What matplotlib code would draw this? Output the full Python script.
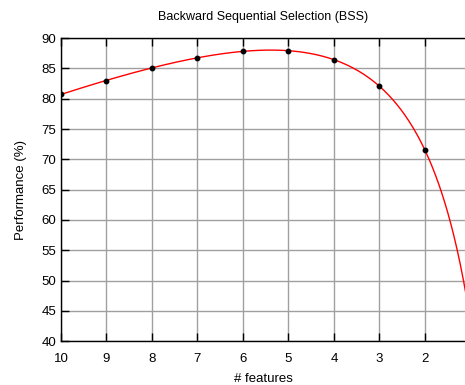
import numpy as np
import matplotlib
matplotlib.use("Agg")
import matplotlib.pyplot as plt

plt.rcParams['font.family'] = ['Liberation Sans', 'DejaVu Sans']

# number of features vs performance
n_features = [10, 9, 8, 7, 6, 5, 4, 3, 2]
performance = [80.7, 83.0, 85.1, 86.8, 87.8, 87.9, 86.4, 82.1, 71.5]
x_ticks = [10, 9, 8, 7, 6, 5, 4, 3, 2]
y_ticks = [40, 45, 50, 55, 60, 65, 70, 75, 80, 85, 90]

fig = plt.figure(figsize=(4.65, 3.85), dpi=100)
ax = fig.add_axes([0.131, 0.114, 0.869, 0.787])

# smooth curve: cubic fit in log(x) through the points
coef = np.polyfit(np.log(n_features), performance, 3)
xs = np.linspace(10, 1.0, 400)
ax.plot(xs, np.polyval(coef, np.log(xs)), color='red', lw=1, zorder=3)
ax.plot(n_features, performance, 'ko', ms=3.2, zorder=4)

ax.set_xlim(10, 1.12)
ax.set_ylim(40, 90)
ax.set_xticks(x_ticks)
ax.set_yticks(y_ticks)
ax.grid(True, color='#a0a0a0', lw=1)
ax.tick_params(direction='in', length=6, width=1, labelsize=9.5, top=True, right=False)
ax.tick_params(axis='x', pad=8.5)
ax.spines['right'].set_visible(False)
for s in ['left', 'bottom', 'top']:
    ax.spines[s].set_linewidth(1)

ax.set_title("Backward Sequential Selection (BSS)", fontsize=9, pad=13)
ax.set_xlabel("# features", fontsize=9.5, labelpad=5.5)
ax.set_ylabel("Performance (%)", fontsize=9.5, labelpad=10)

fig.savefig("out.png", dpi=100)
